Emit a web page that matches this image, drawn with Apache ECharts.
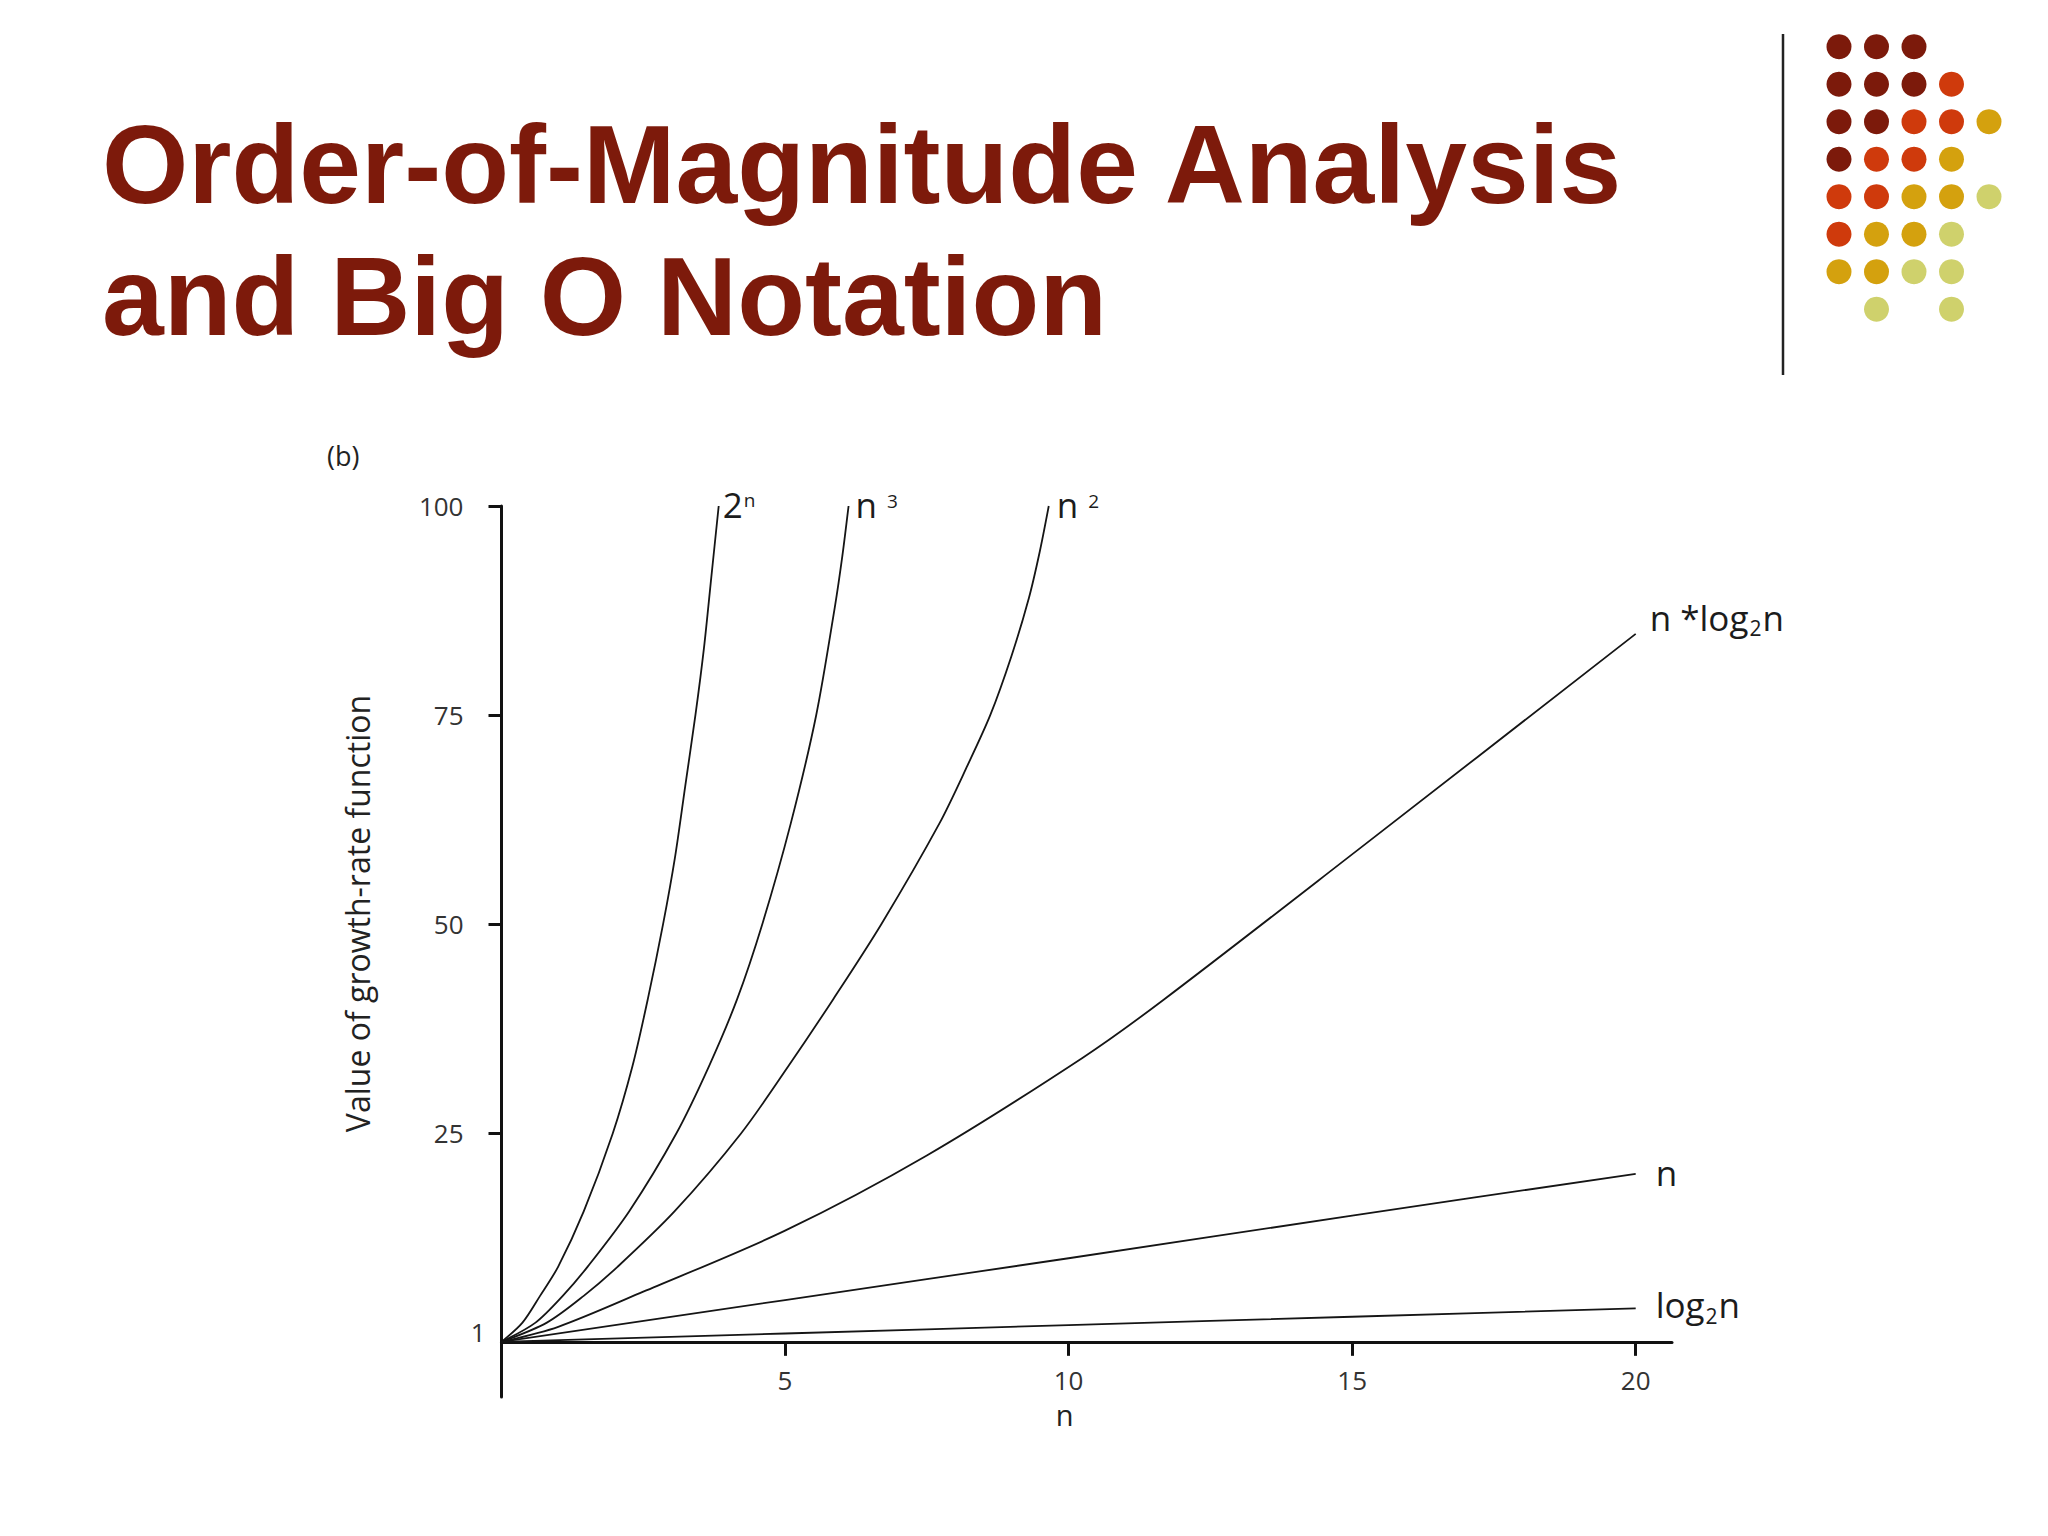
<!DOCTYPE html>
<html>
<head>
<meta charset="utf-8">
<script src="https://cdn.jsdelivr.net/npm/echarts@6/dist/echarts.min.js"></script>
<style>
  html, body { margin: 0; padding: 0; background: #ffffff; }
  #chart { width: 2048px; height: 1536px; }
</style>
</head>
<body>
<div id="chart"></div>
<script>
// ---- data ----
const xTicks = [5, 10, 15, 20];
const yTicks = [25, 50, 75, 100];
const yLabelValues = [0, 25, 50, 75, 100];
const yLabelTexts = ['1', '25', '50', '75', '100'];

const nPow2 = [0, 0.37, 0.68, 1.00, 1.45, 1.96, 2.31, 2.58, 2.85, 3.06, 3.24, 3.42, 3.57, 3.70, 3.83];
const vPow2 = [0, 2.3, 5.5, 9.0, 15.6, 24.9, 33.0, 41.0, 50.0, 58.0, 66.5, 75.0, 83.0, 91.5, 100.0];

const nCube = [0, 0.60, 1.08, 1.52, 2.25, 3.08, 3.66, 4.155, 4.60, 5.10, 5.55, 5.88, 6.01, 6.12];
const vCube = [0, 2.3, 5.5, 9.0, 15.6, 24.9, 33.0, 41.0, 50.0, 62.0, 75.0, 88.0, 94.0, 100.0];

const nSq = [0, 0.80, 1.45, 2.05, 3.05, 4.22, 5.06, 5.85, 6.70, 7.72, 8.22, 8.62, 8.99, 9.30, 9.49, 9.65];
const vSq = [0, 2.3, 5.5, 9.0, 15.6, 24.9, 33.0, 41.0, 50.0, 62.0, 69.0, 75.0, 82.0, 89.0, 94.5, 100.0];

const nNlog = [0, 1.0, 2.5, 5.0, 7.5, 10.25, 11.67, 15.09, 20.0];
const vNlog = [0, 1.8, 6.0, 13.3, 22.3, 34.0, 40.9, 58.8, 84.7];

const nLin = [0, 5, 10, 15, 20];
const vLin = [0, 5.0, 10.0, 15.1, 20.1];

const nLog = [0, 5, 10, 15, 20];
const vLog = [0, 1.0, 2.0, 3.0, 4.0];

const seriesNames = ['2^n', 'n^3', 'n^2', 'n*log2n', 'n', 'log2n'];
const seriesLabels = ['{m|2}{sup|n}', '{m|n}{supg|3}', '{m|n}{supg|2}', '{m|n *log}{sub|2}{m|n}', '{m|n}', '{m|log}{sub|2}{m|n}'];

// decorative dot matrix (row, column, shade index)
const dotRows   = [0,0,0, 1,1,1,1, 2,2,2,2,2, 3,3,3,3, 4,4,4,4,4, 5,5,5,5, 6,6,6,6, 7,7];
const dotCols   = [0,1,2, 0,1,2,3, 0,1,2,3,4, 0,1,2,3, 0,1,2,3,4, 0,1,2,3, 0,1,2,3, 1,3];
const dotShades = [0,0,0, 0,0,0,1, 0,0,1,1,2, 0,1,1,2, 1,1,2,2,3, 1,2,2,3, 2,2,3,3, 3,3];
const dotPalette = ['#7c1a0b', '#cf3a0c', '#d4a10e', '#cfd16c'];

// ---- build ----
const curveX = [nPow2, nCube, nSq, nNlog, nLin, nLog];
const curveY = [vPow2, vCube, vSq, vNlog, vLin, vLog];
const labelDistance = [4, 7, 8, 14, 20, 20];
const labelOffset = [[0, 0], [0, 0], [0, 0], [0, -15], [0, 0], [0, -2]];

const ink = '#1c1c1c';
const richStyles = {
  m:    { fontSize: 35, lineHeight: 40, verticalAlign: 'bottom', fontFamily: 'Open Sans', color: ink, padding: [0, 0, 4, 0] },
  sup:  { fontSize: 19, lineHeight: 30, verticalAlign: 'top', fontFamily: 'Open Sans', color: ink, padding: [4, 0, 0, 1] },
  supg: { fontSize: 19, lineHeight: 30, verticalAlign: 'top', fontFamily: 'Open Sans', color: ink, padding: [5, 0, 0, 10] },
  sub:  { fontSize: 21, lineHeight: 22, verticalAlign: 'bottom', fontFamily: 'Open Sans', color: ink, padding: [0, 1, 0, 1] }
};

const lineSeries = seriesNames.map((name, i) => ({
  name: name,
  type: 'line',
  xAxisIndex: 0,
  yAxisIndex: 0,
  data: curveX[i].map((x, k) => [x, curveY[i][k]]),
  smooth: 0.3,
  symbol: 'none',
  showSymbol: false,
  clip: false,
  lineStyle: { color: '#151515', width: 1.8 },
  emphasis: { disabled: true },
  endLabel: {
    show: true,
    formatter: seriesLabels[i],
    distance: labelDistance[i],
    offset: labelOffset[i],
    rich: richStyles
  },
  z: 3
}));

const dotSeries = {
  name: 'decoration',
  type: 'scatter',
  xAxisIndex: 1,
  yAxisIndex: 1,
  symbol: 'circle',
  symbolSize: 25,
  silent: true,
  data: dotRows.map((r, k) => ({
    value: [dotCols[k], r],
    itemStyle: { color: dotPalette[dotShades[k]], opacity: 1 }
  }))
};

const chart = echarts.init(document.getElementById('chart'), null, { renderer: 'svg', width: 2048, height: 1536 });

chart.setOption({
  backgroundColor: '#ffffff',
  animation: false,
  title: {
    text: 'Order-of-Magnitude Analysis\nand Big O Notation',
    left: 102,
    top: 99,
    padding: 0,
    textStyle: {
      fontFamily: 'Liberation Sans, Arial, sans-serif',
      fontWeight: 'bold',
      fontSize: 111,
      lineHeight: 132,
      color: '#7d1a0b'
    }
  },
  graphic: [
    {
      type: 'line',
      shape: { x1: 1783, y1: 34, x2: 1783, y2: 375 },
      style: { stroke: '#222222', lineWidth: 2.5 },
      silent: true
    },
    {
      type: 'text',
      left: 327,
      top: 442,
      style: { text: '(b)', fontSize: 27, fontFamily: 'Open Sans', fill: '#222222' },
      silent: true
    }
  ],
  grid: [
    { left: 501.5, top: 506, width: 1170.5, height: 891, containLabel: false, outerBoundsMode: 'none' },
    { left: 1839, top: 46.7, width: 150, height: 262.5, containLabel: false, outerBoundsMode: 'none' }
  ],
  xAxis: [
    {
      type: 'value',
      gridIndex: 0,
      min: 0,
      max: 20.64,
      name: 'n',
      nameLocation: 'middle',
      nameGap: 3,
      nameTextStyle: { fontSize: 29, lineHeight: 29, fontFamily: 'Open Sans', color: '#222222', padding: [0, 44, 0, 0] },
      axisLine: { show: true, onZero: true, lineStyle: { color: '#111111', width: 3 } },
      axisTick: { show: true, customValues: xTicks, length: 14, inside: false, lineStyle: { color: '#111111', width: 3 } },
      axisLabel: { show: true, customValues: xTicks, margin: -30, fontSize: 26, lineHeight: 26, fontFamily: 'Open Sans', color: '#333333' },
      splitLine: { show: false }
    },
    {
      type: 'value', gridIndex: 1, min: 0, max: 4, show: false
    }
  ],
  yAxis: [
    {
      type: 'value',
      gridIndex: 0,
      min: -6.6,
      max: 100,
      name: 'Value of growth-rate function',
      nameLocation: 'middle',
      nameGap: 128,
      nameTextStyle: { fontSize: 32, fontFamily: 'Open Sans', color: '#222222', padding: [0, 0, 0, 76] },
      axisLine: { show: true, onZero: false, lineStyle: { color: '#111111', width: 3 } },
      axisTick: { show: true, customValues: yTicks, length: 13, inside: false, lineStyle: { color: '#111111', width: 3 } },
      axisLabel: {
        show: true,
        customValues: yLabelValues,
        margin: 16,
        formatter: function (v) {
          const idx = yLabelValues.indexOf(v);
          if (idx < 0) return '';
          return v === 0 ? '{a|' + yLabelTexts[idx] + '}' : '{b|' + yLabelTexts[idx] + '}';
        },
        rich: {
          a: { fontSize: 26, fontFamily: 'Open Sans', color: '#333333', padding: [0, 0, 20, 0] },
          b: { fontSize: 26, fontFamily: 'Open Sans', color: '#333333', padding: [0, 22, 0, 0] }
        }
      },
      splitLine: { show: false }
    },
    {
      type: 'value', gridIndex: 1, min: 0, max: 7, inverse: true, show: false
    }
  ],
  series: lineSeries.concat([dotSeries])
});
</script>
</body>
</html>
